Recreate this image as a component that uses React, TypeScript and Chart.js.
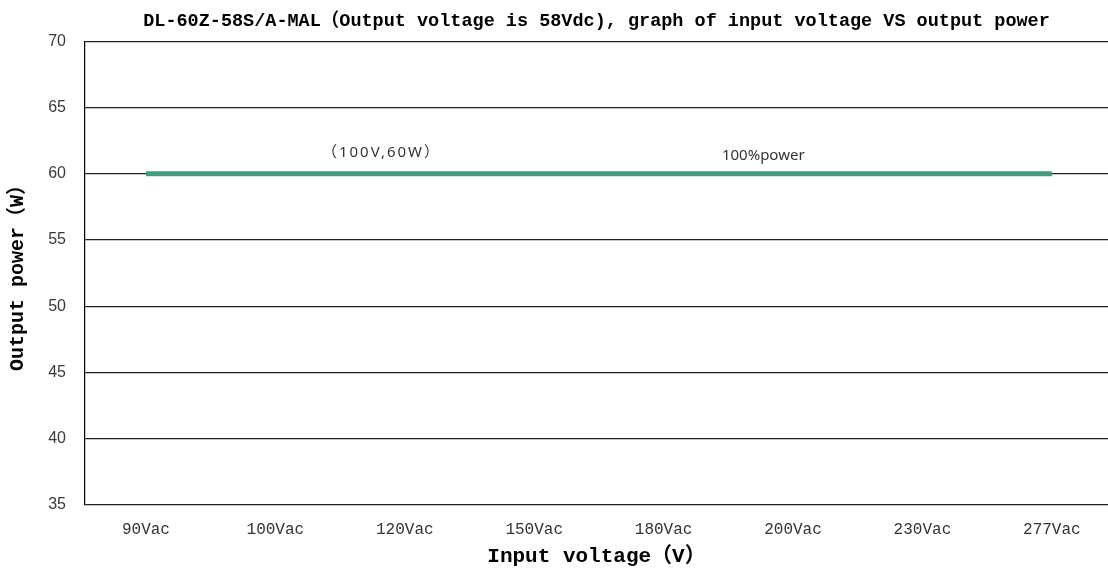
import React, { useEffect, useRef } from "react";
import { Chart, registerables } from "chart.js";

Chart.register(...registerables);

const categories = ["90Vac", "100Vac", "120Vac", "150Vac", "180Vac", "200Vac", "230Vac", "277Vac"];
const powerValues = [60, 60, 60, 60, 60, 60, 60, 60];
const yTickValues = [35, 40, 45, 50, 55, 60, 65, 70];
const annotationTexts = ["（100V,60W）", "100%power"];
const annotationXs = [1.82, 4.77];
const annotationYs = [61.6, 61.35];

const chartTitle = "DL-60Z-58S/A-MAL（Output voltage is 58Vdc), graph of input voltage VS output power";
const xTitle = "Input voltage（V）";
const yTitle = "Output power（W）";

const monoFamily = "'Liberation Mono', 'Noto Sans CJK SC', monospace";

const annotationPlugin = {
  id: "annotationTexts",
  afterDatasetsDraw(chart: any) {
    const { ctx, scales } = chart;
    ctx.save();
    ctx.fillStyle = "#333333";
    ctx.textAlign = "center";
    ctx.textBaseline = "middle";
    annotationTexts.forEach((t, i) => {
      const x = scales.x.getPixelForValue(annotationXs[i]);
      const y = scales.y.getPixelForValue(annotationYs[i]);
      ctx.font = "15px 'Noto Sans', 'Noto Sans CJK SC', sans-serif";
      (ctx as any).letterSpacing = i === 0 ? "2px" : "0px";
      ctx.fillText(t, x, y);
    });
    ctx.restore();
  },
};

export default function App() {
  const canvasRef = useRef<HTMLCanvasElement | null>(null);

  useEffect(() => {
    if (!canvasRef.current) return;
    const chart = new Chart(canvasRef.current, {
      type: "line",
      data: {
        datasets: [
          {
            label: "100%power",
            data: powerValues.map((v, i) => ({ x: i, y: v })),
            borderColor: "#459B82",
            backgroundColor: "#459B82",
            borderWidth: 5,
            pointRadius: 0,
            tension: 0,
            fill: false,
          },
        ],
      },
      options: {
        responsive: false,
        animation: false,
        layout: { padding: { left: 0, right: 0, top: 0, bottom: 0 } },
        plugins: {
          legend: { display: false },
          tooltip: { enabled: false },
          title: {
            display: true,
            text: chartTitle,
            fullSize: false,
            color: "#000000",
            font: { family: monoFamily, size: 18.5, weight: "bold", lineHeight: 1.2 },
            padding: { top: 10, bottom: 9 },
          },
        },
        scales: {
          x: {
            type: "linear",
            min: -0.471,
            max: 7.434,
            afterBuildTicks: (scale: any) => {
              scale.ticks = categories.map((_, i) => ({ value: i }));
            },
            afterFit: (scale: any) => {
              scale.height = 66;
            },
            grid: { display: false, drawTicks: false },
            border: { display: false },
            ticks: {
              autoSkip: false,
              maxRotation: 0,
              padding: 15,
              color: "#333333",
              font: { family: monoFamily, size: 16 },
              callback: (v: any) => categories[v] ?? "",
            },
            title: {
              display: true,
              text: xTitle,
              color: "#000000",
              font: { family: monoFamily, size: 21, weight: "bold", lineHeight: 1.2 },
              padding: { top: 0, bottom: 2 },
            },
          },
          y: {
            type: "linear",
            min: 35,
            max: 70,
            afterBuildTicks: (scale: any) => {
              scale.ticks = yTickValues.map((v) => ({ value: v }));
            },
            afterFit: (scale: any) => {
              scale.width = 85;
            },
            grid: { color: "#222222", lineWidth: 1.2, drawTicks: false },
            border: { display: true, color: "#000000", width: 1.2 },
            ticks: {
              padding: 19,
              color: "#3a3a3a",
              font: { family: "'Liberation Sans', Arial, sans-serif", size: 16 },
            },
            title: {
              display: true,
              text: yTitle,
              color: "#000000",
              font: { family: monoFamily, size: 20, weight: "bold", lineHeight: 1.2 },
              padding: { top: 6, bottom: 0 },
            },
          },
        },
      },
      plugins: [annotationPlugin],
    } as any);
    return () => chart.destroy();
  }, []);

  return (
    <div style={{ position: "fixed", left: 0, top: 0, width: 1108, height: 571, background: "#ffffff" }}>
      <canvas ref={canvasRef} width={1108} height={571} style={{ display: "block" }} />
    </div>
  );
}
